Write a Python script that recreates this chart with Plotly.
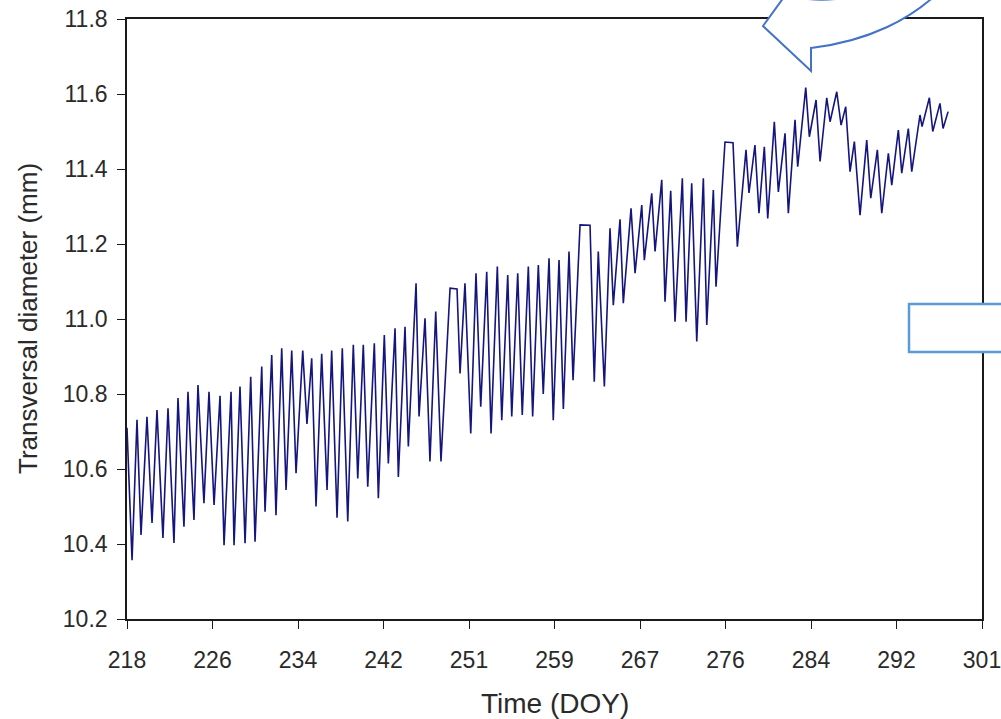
import plotly.graph_objects as go

# Daily extremes of stem transversal diameter, in time order (DOY, mm)
doy = [
    218.00, 218.49, 218.97, 219.36, 219.94, 220.43, 220.91, 221.49, 221.98, 222.56,
    222.95, 223.53, 223.92, 224.50, 224.89, 225.47, 225.96, 226.45, 227.03, 227.42,
    228.10, 228.39, 228.97, 229.46, 230.01, 230.43, 231.08, 231.40, 232.05, 232.46,
    233.02, 233.44, 233.99, 234.41, 235.06, 235.47, 235.93, 236.35, 236.90, 237.42,
    237.87, 238.39, 238.90, 239.43, 239.97, 240.40, 240.94, 241.37, 242.01, 242.40,
    242.98, 243.37, 244.02, 244.34, 244.99, 245.31, 246.06, 246.35, 246.93, 247.41,
    247.97, 248.48, 249.36, 250.04, 250.33, 250.81, 251.37, 251.88, 252.34, 252.92,
    253.34, 253.95, 254.38, 254.96, 255.35, 255.93, 256.37, 256.96, 257.38, 257.93,
    258.41, 258.97, 259.38, 259.94, 260.36, 260.91, 261.30, 261.98, 262.95, 263.36,
    263.75, 264.34, 264.89, 265.21, 265.86, 266.18, 266.93, 267.32, 267.97, 268.22,
    268.94, 269.26, 269.91, 270.23, 270.78, 271.20, 271.91, 272.27, 272.82, 273.31,
    273.95, 274.28, 274.92, 275.18, 276.05, 276.83, 277.25, 278.09, 278.38, 278.96,
    279.35, 279.87, 280.20, 280.84, 281.23, 281.88, 282.20, 282.85, 283.11, 283.89,
    284.24, 284.89, 285.28, 285.93, 286.25, 286.90, 287.32, 287.77, 288.19, 288.61,
    289.16, 289.81, 290.20, 290.84, 291.27, 291.91, 292.24, 292.88, 293.21, 293.85,
    294.18, 294.98, 295.18, 295.89, 296.22, 296.92, 297.22, 297.71,
]
diameter = [
    10.710, 10.357, 10.731, 10.424, 10.739, 10.456, 10.757, 10.416, 10.762, 10.403,
    10.789, 10.446, 10.806, 10.464, 10.824, 10.509, 10.806, 10.504, 10.795, 10.397,
    10.806, 10.397, 10.820, 10.402, 10.846, 10.406, 10.873, 10.486, 10.904, 10.477,
    10.922, 10.544, 10.916, 10.589, 10.916, 10.720, 10.895, 10.500, 10.907, 10.544,
    10.916, 10.470, 10.922, 10.460, 10.931, 10.575, 10.931, 10.553, 10.935, 10.522,
    10.957, 10.615, 10.975, 10.579, 10.979, 10.660, 11.095, 10.740, 11.002, 10.620,
    11.020, 10.620, 11.082, 11.080, 10.855, 11.095, 10.695, 11.122, 10.766, 11.126,
    10.695, 11.140, 10.730, 11.117, 10.740, 11.122, 10.744, 11.140, 10.740, 11.144,
    10.800, 11.162, 10.730, 11.157, 10.760, 11.180, 10.837, 11.251, 11.250, 10.833,
    11.180, 10.820, 11.242, 11.037, 11.266, 11.042, 11.295, 11.122, 11.304, 11.157,
    11.335, 11.180, 11.371, 11.046, 11.342, 10.993, 11.375, 10.993, 11.362, 10.940,
    11.375, 10.984, 11.344, 11.086, 11.472, 11.470, 11.193, 11.451, 11.336, 11.464,
    11.282, 11.459, 11.268, 11.526, 11.339, 11.495, 11.282, 11.531, 11.406, 11.617,
    11.486, 11.584, 11.420, 11.590, 11.526, 11.606, 11.517, 11.566, 11.393, 11.473,
    11.277, 11.477, 11.322, 11.451, 11.282, 11.442, 11.357, 11.504, 11.389, 11.508,
    11.393, 11.544, 11.513, 11.590, 11.500, 11.575, 11.508, 11.553,
]

# Axis ticks
x_tickvals = [218.0, 226.3, 234.6, 242.9, 251.2, 259.5, 267.8, 276.1, 284.4, 292.7, 301.0]
x_ticktext = ["218", "226", "234", "242", "251", "259", "267", "276", "284", "292", "301"]
y_tickvals = [10.2, 10.4, 10.6, 10.8, 11.0, 11.2, 11.4, 11.6, 11.8]
y_ticktext = ["10.2", "10.4", "10.6", "10.8", "11.0", "11.2", "11.4", "11.6", "11.8"]

W, H = 1001, 719
ML, MR, MT, MB = 127, 19, 19, 100
PW, PH = W - ML - MR, H - MT - MB


def px(x, y):
    """Pixel position on the page -> paper coordinates."""
    return (x - ML) / PW, (H - MB - y) / PH


def path(cmds):
    out = []
    for c in cmds:
        if isinstance(c, str):
            out.append(c)
        else:
            xx, yy = px(*c)
            out.append(f"{xx:.5f},{yy:.5f}")
    return " ".join(out)


fig = go.Figure()
fig.add_trace(go.Scatter(
    x=doy, y=diameter, mode="lines",
    line=dict(color="#15157f", width=1.6),
    hoverinfo="skip", showlegend=False,
))

font_main = "Liberation Sans, Arial, sans-serif"
text_col = "#2a2a2a"
axis_common = dict(
    showgrid=False, zeroline=False, showline=True, mirror=True, automargin=False,
    linecolor="#1a1a1a", linewidth=1.6,
    ticks="outside", ticklen=8, tickwidth=1.3, tickcolor="#1a1a1a",
    tickfont=dict(family=font_main, size=23, color=text_col),
    ticklabeloverflow="allow",
)

fig.update_layout(
    width=W, height=H,
    margin=dict(l=ML, r=MR, t=MT, b=MB, autoexpand=False),
    paper_bgcolor="white", plot_bgcolor="white",
    xaxis=dict(range=[218, 301], tickmode="array", tickvals=x_tickvals,
               ticktext=x_ticktext, ticklabelstandoff=12, **axis_common),
    yaxis=dict(range=[10.2, 11.8], tickmode="array", tickvals=y_tickvals,
               ticktext=y_ticktext, ticklabelstandoff=5, **axis_common),
)

# Axis titles
fig.add_annotation(text="Time (DOY)", xref="paper", yref="paper", x=0.5, y=0,
                   xanchor="center", yanchor="middle", yshift=-(703 - 619),
                   showarrow=False, font=dict(family=font_main, size=28, color=text_col))
fig.add_annotation(text="Transversal diameter (mm)", xref="paper", yref="paper",
                   x=0, y=0.5, xanchor="center", yanchor="middle", xshift=28 - ML,
                   textangle=-90, showarrow=False,
                   font=dict(family=font_main, size=26, color=text_col))

# Callout box at the right edge
x0, y0 = px(909, 304)
x1, y1 = px(1012, 352)
fig.add_shape(type="rect", xref="paper", yref="paper", x0=x0, y0=y1, x1=x1, y1=y0,
              line=dict(color="#5b9bd5", width=2.5), fillcolor="white", layer="above")

# Curved callout arrow at the top
arrow = path([
    "M", (792, -14), "L", (763, 26), "L", (811, 71), "L", (811, 48),
    "C", (862, 42), (915, 22), (952, -22),
    "L", (905, -40),
    "C", (880, -8), (842, 3), (808, -1),
    "Z",
])
fig.add_shape(type="path", xref="paper", yref="paper", path=arrow,
              line=dict(color="#4472c4", width=2), fillcolor="white", layer="above")

fig.write_html("out.html")
